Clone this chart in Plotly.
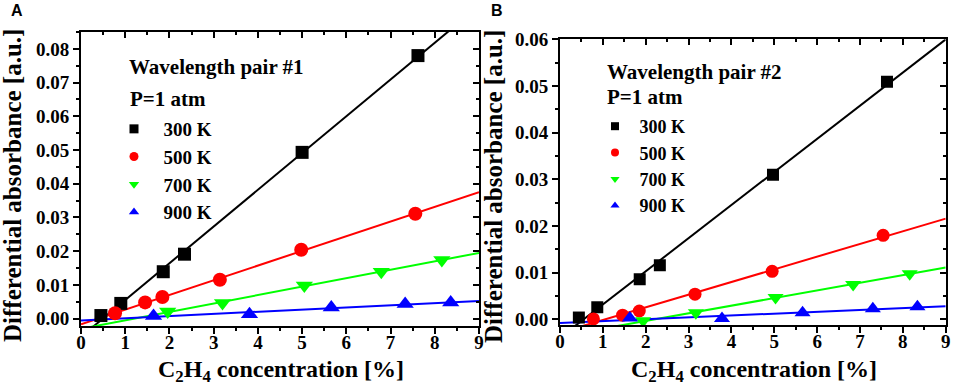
import numpy as np
import plotly.graph_objects as go

# ---------------- data ----------------
TEMPS = ["300 K", "500 K", "700 K", "900 K"]
COLORS = ["#000000", "#ff0000", "#00ff00", "#0000ff"]
SYMBOLS = ["square", "circle", "triangle-down", "triangle-up"]

# Panel A: wavelength pair #1
a_x_300 = [0.45, 0.90, 1.86, 2.34, 5.00, 7.62]
a_y_300 = [0.0009, 0.0045, 0.0139, 0.0191, 0.0493, 0.0780]
a_x_500 = [0.77, 1.45, 1.84, 3.14, 4.98, 7.56]
a_y_500 = [0.0016, 0.0048, 0.0064, 0.0115, 0.0204, 0.0311]
a_x_700 = [1.96, 3.20, 5.05, 6.79, 8.16]
a_y_700 = [0.0021, 0.0046, 0.0098, 0.0139, 0.0174]
a_x_900 = [1.64, 3.81, 5.66, 7.33, 8.36]
a_y_900 = [0.0008, 0.0013, 0.0033, 0.0043, 0.0048]

# Panel B: wavelength pair #2
b_x_300 = [0.44, 0.87, 1.86, 2.33, 4.97, 7.63]
b_y_300 = [0.0004, 0.0026, 0.0086, 0.0116, 0.0310, 0.0509]
b_x_500 = [0.78, 1.46, 1.85, 3.15, 4.95, 7.54]
b_y_500 = [0.0001, 0.0009, 0.0018, 0.0054, 0.0103, 0.0180]
b_x_700 = [1.94, 3.17, 5.03, 6.84, 8.16]
b_y_700 = [-0.0003, 0.0014, 0.0047, 0.0075, 0.0098]
b_x_900 = [1.63, 3.78, 5.66, 7.30, 8.34]
b_y_900 = [0.0003, 0.0002, 0.0014, 0.0023, 0.0027]

X_RANGE = [0, 9]
A_Y_RANGE = [-0.0022, 0.085]
B_Y_RANGE = [-0.0012, 0.060]

panels = [
    dict(xs=[a_x_300, a_x_500, a_x_700, a_x_900],
         ys=[a_y_300, a_y_500, a_y_700, a_y_900],
         xa="x", ya="y", legend="legend", msize=[13, 14, 15, 15], lsize=9,
         pad="\u00a0\u00a0"),
    dict(xs=[b_x_300, b_x_500, b_x_700, b_x_900],
         ys=[b_y_300, b_y_500, b_y_700, b_y_900],
         xa="x2", ya="y2", legend="legend2", msize=[12, 13, 14, 14], lsize=8,
         pad="\u00a0"),
]

fig = go.Figure()
fit_x = np.array(X_RANGE, dtype=float)
for p in panels:
    for i in range(4):
        x = np.array(p["xs"][i]); y = np.array(p["ys"][i])
        k, b = np.polyfit(x, y, 1)
        fig.add_trace(go.Scatter(x=fit_x, y=k * fit_x + b, mode="lines",
                                 line=dict(color=COLORS[i], width=2),
                                 xaxis=p["xa"], yaxis=p["ya"], showlegend=False,
                                 hoverinfo="skip"))
    for i in range(4):
        fig.add_trace(go.Scatter(x=p["xs"][i], y=p["ys"][i], mode="markers",
                                 marker=dict(symbol=SYMBOLS[i], color=COLORS[i],
                                             size=p["msize"][i], line=dict(width=0)),
                                 xaxis=p["xa"], yaxis=p["ya"], showlegend=False,
                                 cliponaxis=True))
    for i in range(4):
        fig.add_trace(go.Scatter(x=[None], y=[None], mode="markers",
                                 marker=dict(symbol=SYMBOLS[i], color=COLORS[i],
                                             size=p["lsize"], line=dict(width=0)),
                                 name=p["pad"] + TEMPS[i],
                                 xaxis=p["xa"], yaxis=p["ya"], legend=p["legend"]))

# empty traces so that mirrored inside-tick axes get drawn
for xa, ya in [("x3", "y"), ("x", "y3"), ("x4", "y2"), ("x2", "y4")]:
    fig.add_trace(go.Scatter(x=[None], y=[None], xaxis=xa, yaxis=ya,
                             showlegend=False, hoverinfo="skip"))

W, H = 957, 388
def px_x(v): return v / W
def px_y(v): return (H - v) / H

tickfont = dict(family="Liberation Serif", size=19, color="black", weight="bold")
A_XD = [px_x(81), px_x(479)]
A_YD = [px_y(326), px_y(32)]
B_XD = [px_x(560), px_x(945.7)]
B_YD = [px_y(325), px_y(39.3)]

def main_x(domain, anchor):
    return dict(domain=domain, anchor=anchor, range=X_RANGE, dtick=1, tick0=0,
                ticks="outside", ticklen=6, tickwidth=2, tickcolor="black",
                minor=dict(dtick=0.5, ticks="outside", ticklen=3, tickwidth=1.5, tickcolor="black"),
                showline=True, linewidth=2, linecolor="black", mirror=True,
                showgrid=False, zeroline=False, tickfont=tickfont, fixedrange=True,
                automargin=False, ticklabelstandoff=-8)

def main_y(domain, anchor, rng):
    return dict(domain=domain, anchor=anchor, range=rng, dtick=0.01, tick0=0,
                tickformat=".2f",
                ticks="outside", ticklen=6, tickwidth=2, tickcolor="black",
                minor=dict(dtick=0.005, ticks="outside", ticklen=3, tickwidth=1.5, tickcolor="black"),
                showline=True, linewidth=2, linecolor="black", mirror=True,
                showgrid=False, zeroline=False, tickfont=tickfont, fixedrange=True,
                automargin=False)

def over_x(domain, overlay, anchor):
    return dict(domain=domain, overlaying=overlay, anchor=anchor, side="top",
                range=X_RANGE, dtick=1, tick0=0, ticks="inside", ticklen=6, tickwidth=2,
                tickcolor="black",
                minor=dict(dtick=0.5, ticks="inside", ticklen=3, tickwidth=1.5, tickcolor="black"),
                showticklabels=False, showline=False, showgrid=False, zeroline=False,
                fixedrange=True, automargin=False)

def over_y(domain, overlay, anchor, rng):
    return dict(domain=domain, overlaying=overlay, anchor=anchor, side="right",
                range=rng, dtick=0.01, tick0=0, ticks="inside", ticklen=6, tickwidth=2,
                tickcolor="black",
                minor=dict(dtick=0.005, ticks="inside", ticklen=3, tickwidth=1.5, tickcolor="black"),
                showticklabels=False, showline=False, showgrid=False, zeroline=False,
                fixedrange=True, automargin=False)

serif = "Liberation Serif"
annos = []
def anno(text, x, y, size, xanchor="left", angle=0, family=serif):
    annos.append(dict(text=text, x=px_x(x), y=px_y(y), xref="paper", yref="paper",
                      xanchor=xanchor, yanchor="middle", showarrow=False, textangle=angle,
                      font=dict(family=family, size=size, color="black", weight="bold")))

anno("A", 17, 10, 16, xanchor="center", family="Liberation Sans")
anno("B", 497, 10, 16, xanchor="center", family="Liberation Sans")
anno("Wavelength pair #1", 127, 67, 21)
anno("P=1 atm", 128, 99, 21)
anno("Wavelength pair #2", 605, 72, 21)
anno("P=1 atm", 605, 97, 21)
anno("Differential absorbance [a.u.]", 13, 186, 25, xanchor="center", angle=-90)
anno("Differential absorbance [a.u.]", 494, 186, 25, xanchor="center", angle=-90)
anno("C<sub>2</sub>H<sub>4</sub> concentration [%]", 281, 371, 24, xanchor="center")
anno("C<sub>2</sub>H<sub>4</sub> concentration [%]", 754, 371, 24, xanchor="center")

legfont_a = dict(family=serif, size=19, color="black", weight="bold")
legfont_b = dict(family=serif, size=18, color="black", weight="bold")

fig.update_layout(
    template="none",
    width=W, height=H, margin=dict(l=0, r=0, t=0, b=0, pad=0, autoexpand=False),
    paper_bgcolor="white", plot_bgcolor="white",
    xaxis=main_x(A_XD, "y"), yaxis=main_y(A_YD, "x", A_Y_RANGE),
    xaxis2=main_x(B_XD, "y2"), yaxis2=main_y(B_YD, "x2", B_Y_RANGE),
    xaxis3=over_x(A_XD, "x", "y"), yaxis3=over_y(A_YD, "y", "x", A_Y_RANGE),
    xaxis4=over_x(B_XD, "x2", "y2"), yaxis4=over_y(B_YD, "y2", "x2", B_Y_RANGE),
    legend=dict(x=px_x(114), y=px_y(110), xanchor="left", yanchor="top",
                bgcolor="rgba(0,0,0,0)", font=legfont_a, tracegroupgap=0,
                itemclick=False, itemdoubleclick=False),
    legend2=dict(x=px_x(595), y=px_y(108), xanchor="left", yanchor="top",
                 bgcolor="rgba(0,0,0,0)", font=legfont_b, tracegroupgap=0,
                 itemclick=False, itemdoubleclick=False),
    annotations=annos,
    showlegend=True,
)

fig.write_html("out.html", config={"displayModeBar": False},
               post_script="document.body.style.margin='0';document.body.style.padding='0';")
